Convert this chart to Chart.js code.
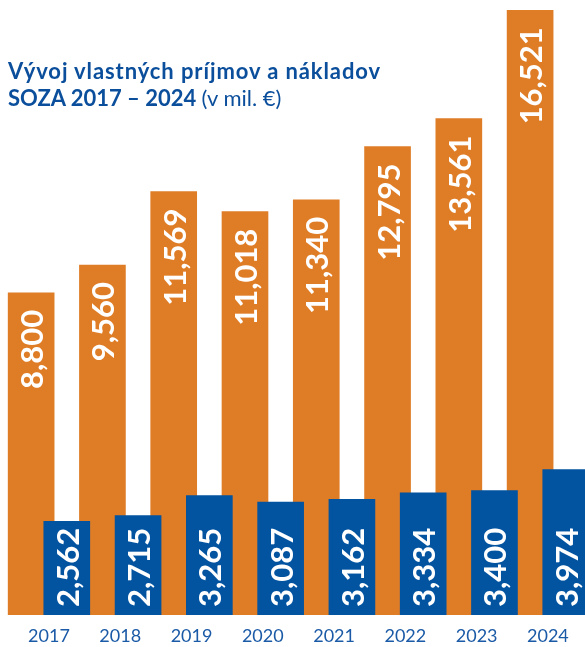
<!DOCTYPE html>
<html>
<head>
<meta charset="utf-8">
<script src="https://cdn.jsdelivr.net/npm/chart.js@4"></script>
<style>
  html, body { margin: 0; padding: 0; background: #fff; }
  #wrap { position: relative; width: 585px; height: 647px; }
  #title {
    position: absolute; left: 8px; top: 57px;
    font-family: Lato, sans-serif; font-size: 22px; line-height: 27px;
    color: #0b4f9c; font-weight: 700; white-space: nowrap;
  }
  #title .l1 { letter-spacing: 0.9px; }
  #title .light { font-weight: 400; }
</style>
</head>
<body>
<div id="wrap">
  <canvas id="chart" width="585" height="647"></canvas>
  <div id="title"><span class="l1">Vývoj vlastných príjmov a nákladov</span><br>SOZA 2017 – 2024 <span class="light">(v mil. €)</span></div>
</div>
<script>
// Data: own income vs costs, mil. EUR
const years = ['2017', '2018', '2019', '2020', '2021', '2022', '2023', '2024'];
const income = [8.800, 9.560, 11.569, 11.018, 11.340, 12.795, 13.561, 16.521];
const costs = [2.562, 2.715, 3.265, 3.087, 3.162, 3.334, 3.400, 3.974];

const ORANGE = '#df7d27';
const BLUE = '#0253a0';

// bars overlap a little, so they sit on a linear x axis shifted around the group center
const shift = 0.25;

// white rotated value labels inside the bars
const barLabels = {
  id: 'barLabels',
  afterDatasetsDraw(chart) {
    const ctx = chart.ctx;
    ctx.save();
    ctx.fillStyle = '#fff';
    ctx.font = 'bold 31px Lato, sans-serif';
    ctx.textBaseline = 'middle';
    chart.data.datasets.forEach((ds, di) => {
      chart.getDatasetMeta(di).data.forEach((bar, i) => {
        const txt = ds.data[i].y.toFixed(3).replace('.', ',');
        ctx.save();
        if (di === 0) {
          ctx.translate(bar.x, bar.y + 17);
          ctx.rotate(-Math.PI / 2);
          ctx.textAlign = 'right';
        } else {
          ctx.translate(bar.x, bar.base - 8);
          ctx.rotate(-Math.PI / 2);
          ctx.textAlign = 'left';
        }
        ctx.fillText(txt, 0, 2);
        ctx.restore();
      });
    });
    ctx.restore();
  }
};

new Chart(document.getElementById('chart'), {
  type: 'bar',
  data: {
    datasets: [{
      label: 'Príjmy',
      data: income.map((v, i) => ({ x: i - shift, y: v })),
      backgroundColor: ORANGE,
      barThickness: 46,
      grouped: false,
      order: 2
    }, {
      label: 'Náklady',
      data: costs.map((v, i) => ({ x: i + shift, y: v })),
      backgroundColor: BLUE,
      barThickness: 46,
      grouped: false,
      order: 1
    }]
  },
  options: {
    responsive: false,
    animation: false,
    layout: { padding: 0 },
    plugins: { legend: { display: false }, tooltip: { enabled: false } },
    scales: {
      x: {
        type: 'linear',
        offset: false,
        min: -0.687,
        max: 7.52,
        grid: { display: false, drawTicks: false },
        border: { display: false },
        afterBuildTicks: axis => { axis.ticks = years.map((_, i) => ({ value: i })); },
        afterFit: axis => { axis.height = 32; },
        ticks: {
          padding: 10,
          color: '#1b5aa6',
          font: { family: 'Lato, sans-serif', size: 18 },
          maxRotation: 0,
          autoSkip: false,
          callback: v => years[v]
        }
      },
      y: {
        display: false,
        min: 0,
        max: 16.8
      }
    }
  },
  plugins: [barLabels]
});
</script>
</body>
</html>
